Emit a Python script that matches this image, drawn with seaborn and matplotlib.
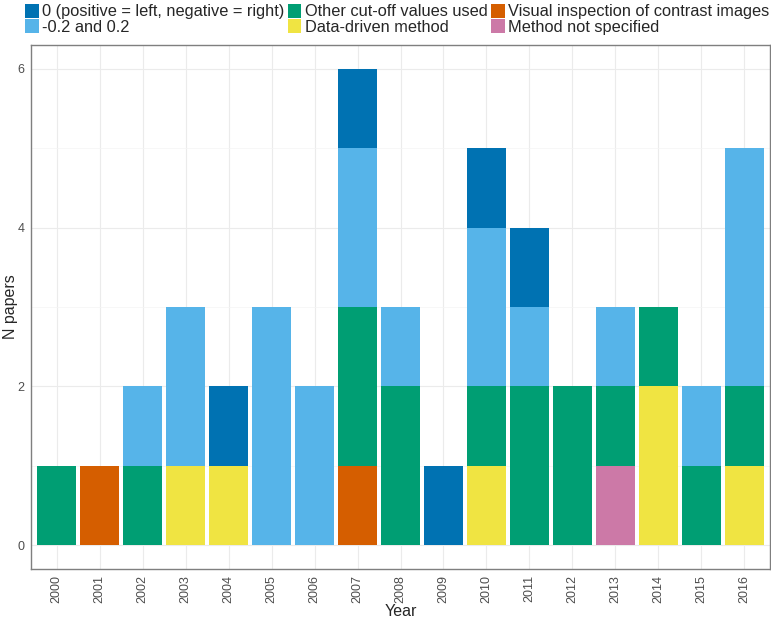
import matplotlib
matplotlib.use("Agg")
import matplotlib.pyplot as plt
from matplotlib.patches import Patch
import numpy as np
import pandas as pd
import seaborn as sns

# categories (legend order)
methods = [
    "0 (positive = left, negative = right)",
    "-0.2 and 0.2",
    "Other cut-off values used",
    "Data-driven method",
    "Visual inspection of contrast images",
    "Method not specified",
]
colors = ["#0072B2", "#56B4E9", "#009E73", "#F0E442", "#D55E00", "#CC79A7"]

years = list(range(2000, 2017))
# counts per year for each method
n_zero =     [0, 0, 0, 0, 1, 0, 0, 1, 0, 1, 1, 1, 0, 0, 0, 0, 0]
n_02 =       [0, 0, 1, 2, 0, 3, 2, 2, 1, 0, 2, 1, 0, 1, 0, 1, 3]
n_other =    [1, 0, 1, 0, 0, 0, 0, 2, 2, 0, 1, 2, 2, 1, 1, 1, 1]
n_data =     [0, 0, 0, 1, 1, 0, 0, 0, 0, 0, 1, 0, 0, 0, 2, 0, 1]
n_visual =   [0, 1, 0, 0, 0, 0, 0, 1, 0, 0, 0, 0, 0, 0, 0, 0, 0]
n_unspec =   [0, 0, 0, 0, 0, 0, 0, 0, 0, 0, 0, 0, 0, 1, 0, 0, 0]

counts = [n_zero, n_02, n_other, n_data, n_visual, n_unspec]
rows = []
for m, c in zip(methods, counts):
    for y, v in zip(years, c):
        rows.append({"Year": y, "method": m, "n": v})
df = pd.DataFrame(rows)

sns.set_style("white")
plt.rcParams["font.family"] = ["Liberation Sans", "DejaVu Sans"]

fig = plt.figure(figsize=(7.71, 6.2), dpi=100)
ax = fig.add_axes([31 / 771, 51 / 620, 739 / 771, 524 / 620])

# first legend entry ends up on top of each stack
sns.histplot(data=df, x="Year", weights="n", hue="method",
             hue_order=methods, palette=dict(zip(methods, colors)),
             multiple="stack", discrete=True, shrink=0.9,
             alpha=1, linewidth=0, legend=False, ax=ax, zorder=3)

ax.set_xlim(1999.4, 2016.6)
ax.set_ylim(-0.3, 6.3)
ax.set_xticks(years)
ax.set_xticklabels([str(y) for y in years], rotation=90)
ax.set_yticks([0, 2, 4, 6])
ax.set_yticks([1, 3, 5], minor=True)
ax.grid(True, which="major", color="#EBEBEB", linewidth=0.8, zorder=0)
ax.grid(True, which="minor", axis="y", color="#F4F4F4", linewidth=0.5, zorder=0)
ax.set_axisbelow(True)
for s in ax.spines.values():
    s.set_color("#7F7F7F")
    s.set_linewidth(1.0)
ax.tick_params(axis="both", which="major", length=3, color="#333333",
               labelcolor="#4D4D4D", labelsize=9, pad=1.5)
ax.tick_params(axis="y", which="minor", length=0)
ax.set_xlabel("Year", fontsize=11.5)
ax.set_ylabel("N papers", fontsize=11.5)
ax.xaxis.set_label_coords(0.5, -0.066)
ax.yaxis.set_label_coords(-0.018, 0.5)

handles = [Patch(facecolor=c, edgecolor="none") for c in colors]
fig.legend(handles, methods, ncol=3, loc="upper left",
           bbox_to_anchor=(14 / 771, 1.012), frameon=False,
           fontsize=11.8, handlelength=0.8, handleheight=0.9,
           handletextpad=0.2, columnspacing=0.25, labelspacing=0.0,
           borderpad=0.2)

fig.savefig("out.png", dpi=100)
